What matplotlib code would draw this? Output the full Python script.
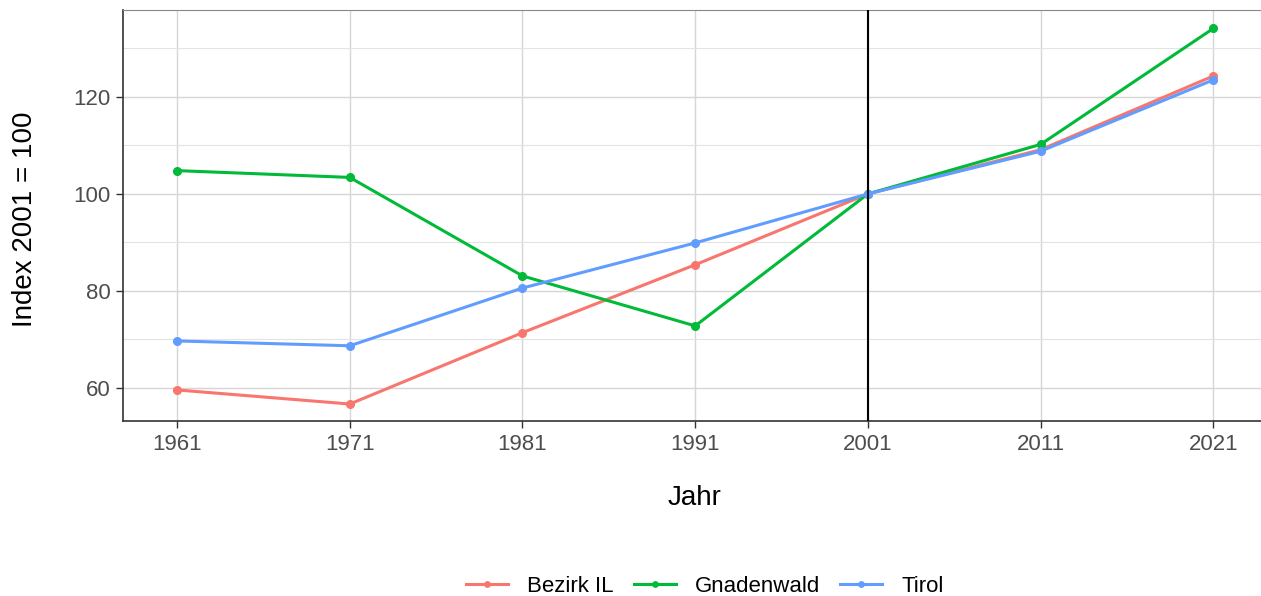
import matplotlib
matplotlib.use("Agg")
import matplotlib.pyplot as plt
from matplotlib.ticker import FixedLocator

plt.rcParams['font.family'] = ['Liberation Sans', 'DejaVu Sans']

years = [1961, 1971, 1981, 1991, 2001, 2011, 2021]
bezirk_il = [59.6, 56.7, 71.4, 85.4, 100.0, 109.1, 124.3]
gnadenwald = [104.8, 103.4, 83.1, 72.8, 100.0, 110.2, 134.1]
tirol = [69.7, 68.7, 80.6, 89.9, 100.0, 108.8, 123.5]

series = [("Bezirk IL", bezirk_il, "#F8766D"),
          ("Gnadenwald", gnadenwald, "#00BA38"),
          ("Tirol", tirol, "#619CFF")]

W, H = 1261, 596
fig = plt.figure(figsize=(W / 100, H / 100), dpi=100)
# panel: left 123px, top 10px, bottom 421px
ax = fig.add_axes([123 / W, 1 - 421 / H, 1143 / W, 411 / H])

for name, vals, col in series:
    ax.plot(years, vals, color=col, linewidth=2.2, marker='o', markersize=5.5,
            label=name, zorder=3)

ax.axvline(2001, color='black', linewidth=1.5, zorder=4)

ax.set_xlim(1957.87, 2024.05)
ax.set_ylim(53.2, 137.9)
ax.set_xticks(years)
ax.set_yticks([60, 80, 100, 120])
ax.yaxis.set_minor_locator(FixedLocator([70, 90, 110, 130]))
ax.xaxis.set_minor_locator(FixedLocator([]))

ax.grid(True, which='major', color='#D6D6D6', linewidth=1.0, zorder=0)
ax.grid(True, which='minor', axis='y', color='#E3E3E3', linewidth=0.8, zorder=0)
ax.set_axisbelow(True)

ax.tick_params(axis='both', which='major', labelsize=16, labelcolor='#4D4D4D',
               color='#333333', length=5, width=1, pad=4)
ax.tick_params(axis='y', which='minor', length=0)

for s in ['left', 'bottom']:
    ax.spines[s].set_color('#333333')
    ax.spines[s].set_linewidth(1.2)
ax.spines['top'].set_color('#888888')
ax.spines['right'].set_visible(False)

ax.set_xlabel("Jahr", fontsize=20, color='black')
ax.set_ylabel("Index 2001 = 100", fontsize=20, color='black')
ax.xaxis.set_label_coords(0.5, -0.155)
ax.yaxis.set_label_coords(-0.0744, 0.49)
ax.xaxis.label.set_va('top')
ax.yaxis.label.set_va('bottom')

fig.legend(loc='center', bbox_to_anchor=(705 / W, 1 - 586 / H), ncol=3,
           frameon=False, fontsize=16, handlelength=1.9, handletextpad=0.85,
           columnspacing=0.9, markerscale=0.7)

fig.savefig("out.png", dpi=100)
